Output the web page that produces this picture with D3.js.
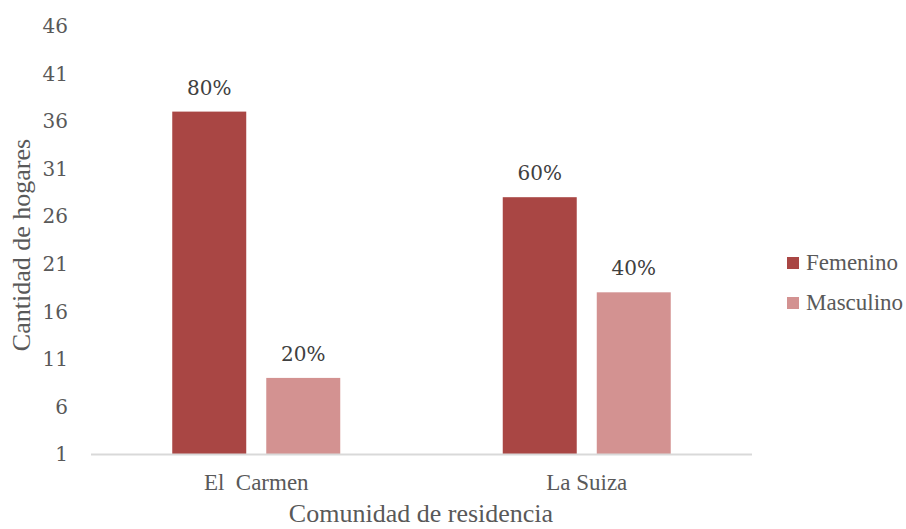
<!DOCTYPE html>
<html>
<head>
<meta charset="utf-8">
<script src="https://cdn.jsdelivr.net/npm/d3@7"></script>
<style>
  body { margin: 0; background: #fff; }
  svg { display: block; }
  .serif { font-family: "Liberation Serif", "Times New Roman", Times, serif; }
  .num { font-family: "DejaVu Serif", "Liberation Serif", serif; }
</style>
</head>
<body>
<div id="chart"></div>
<script>
// chart data
var categories = ["El  Carmen", "La Suiza"];
var seriesNames = ["Femenino", "Masculino"];
var femenino = [37, 28];
var masculino = [9, 18];
var pctLabels = [["80%", "20%"], ["60%", "40%"]];
var yTicks = [1, 6, 11, 16, 21, 26, 31, 36, 41, 46];

var colors = ["#a94644", "#d39291"];

var width = 906, height = 529;
var plot = {left: 91, right: 752, top: 26, bottom: 454};
var groupW = 168;

var svg = d3.select("#chart").append("svg")
    .attr("width", width)
    .attr("height", height);

var x = d3.scaleBand()
    .domain(categories)
    .range([plot.left, plot.right]);

var x1 = d3.scaleBand()
    .domain(seriesNames)
    .range([0, groupW])
    .paddingInner(0.213);

var y = d3.scaleLinear()
    .domain([1, 46])
    .range([plot.bottom, plot.top]);

// tick labels on the y axis
svg.append("g")
    .selectAll("text")
    .data(yTicks)
    .enter().append("text")
    .attr("class", "num")
    .attr("x", 68)
    .attr("y", function(d) { return y(d); })
    .attr("dy", "0.36em")
    .attr("text-anchor", "end")
    .attr("font-size", 20)
    .attr("fill", "#595959")
    .text(function(d) { return d; });

// bars
var rows = categories.map(function(c, i) {
    return {cat: c, vals: [femenino[i], masculino[i]], labels: pctLabels[i]};
});

var groups = svg.append("g").selectAll("g")
    .data(rows)
    .enter().append("g")
    .attr("transform", function(d) { return "translate(" + (x(d.cat) + (x.bandwidth() - groupW) / 2) + ",0)"; });

groups.selectAll("rect")
    .data(function(d) { return d.vals.map(function(v, j) { return {s: seriesNames[j], v: v, j: j}; }); })
    .enter().append("rect")
    .attr("x", function(d) { return x1(d.s); })
    .attr("width", x1.bandwidth())
    .attr("y", function(d) { return y(d.v); })
    .attr("height", function(d) { return y(1) - y(d.v); })
    .attr("fill", function(d) { return colors[d.j]; });

groups.selectAll("text")
    .data(function(d) { return d.vals.map(function(v, j) { return {s: seriesNames[j], v: v, lab: d.labels[j]}; }); })
    .enter().append("text")
    .attr("class", "num")
    .attr("x", function(d) { return x1(d.s) + x1.bandwidth() / 2; })
    .attr("y", function(d) { return y(d.v) - 17; })
    .attr("text-anchor", "middle")
    .attr("font-size", 20)
    .attr("fill", "#404040")
    .text(function(d) { return d.lab; });

// x axis line
svg.append("line")
    .attr("x1", plot.left)
    .attr("x2", plot.right)
    .attr("y1", y(1) + 0.5)
    .attr("y2", y(1) + 0.5)
    .attr("stroke", "#d9d9d9")
    .attr("stroke-width", 2);

// category labels
svg.append("g").selectAll("text")
    .data(categories)
    .enter().append("text")
    .attr("class", "serif")
    .attr("x", function(d) { return x(d) + x.bandwidth() / 2; })
    .attr("y", 490)
    .attr("text-anchor", "middle")
    .style("white-space", "pre")
    .attr("font-size", 23)
    .attr("fill", "#595959")
    .text(function(d) { return d; });

// axis titles
svg.append("text")
    .attr("class", "serif")
    .attr("x", 421)
    .attr("y", 522)
    .attr("text-anchor", "middle")
    .attr("font-size", 26)
    .attr("fill", "#595959")
    .text("Comunidad de residencia");

svg.append("text")
    .attr("class", "serif")
    .attr("transform", "translate(30,245) rotate(-90)")
    .attr("text-anchor", "middle")
    .attr("font-size", 26)
    .attr("fill", "#595959")
    .text("Cantidad de hogares");

// legend
var legend = svg.append("g").selectAll("g")
    .data(seriesNames)
    .enter().append("g")
    .attr("transform", function(d, i) { return "translate(787," + (257 + i * 40) + ")"; });

legend.append("rect")
    .attr("width", 12)
    .attr("height", 12)
    .attr("fill", function(d, i) { return colors[i]; });

legend.append("text")
    .attr("class", "serif")
    .attr("x", 19)
    .attr("y", 13)
    .attr("font-size", 23)
    .attr("fill", "#595959")
    .text(function(d) { return d; });
</script>
</body>
</html>
